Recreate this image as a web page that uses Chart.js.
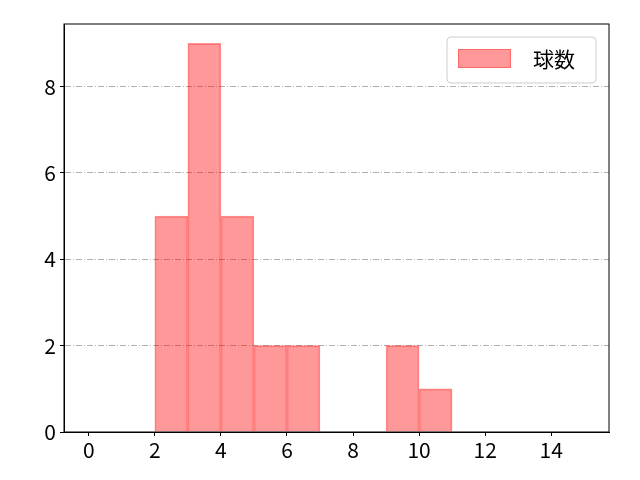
<!DOCTYPE html>
<html>
<head>
<meta charset="utf-8">
<script src="https://cdn.jsdelivr.net/npm/chart.js@4"></script>
<style>
  body { margin: 0; background: #fff; }
  #wrap { width: 640px; height: 480px; }
</style>
</head>
<body>
<div id="wrap"><canvas id="myChart" width="640" height="480"></canvas></div>
<script>
// histogram bins (left edges) and counts
const binStarts = [0, 1, 2, 3, 4, 5, 6, 7, 8, 9, 10, 11, 12, 13, 14]
const counts = [0, 0, 5, 9, 5, 2, 2, 0, 0, 2, 1, 0, 0, 0, 0]
const xTicks = [0, 2, 4, 6, 8, 10, 12, 14]
const yTicks = [0, 2, 4, 6, 8]
const seriesLabel = '球数'

const FONT = "'Noto Sans CJK JP', 'Noto Sans', sans-serif"

const points = binStarts.map((b, i) => ({ x: b + 0.5, y: counts[i] }))

// frame + legend, drawn like matplotlib
const framePlugin = {
    id: 'frame',
    afterDraw(chart) {
        const c = chart.ctx
        const a = chart.chartArea
        c.save()
        c.strokeStyle = '#000'
        c.lineWidth = 1
        c.strokeRect(a.left, a.top, a.right - a.left, a.bottom - a.top)

        // legend box
        const lx = 447, ly = 37, lw = 149, lh = 46
        c.fillStyle = 'rgba(255,255,255,0.8)'
        c.strokeStyle = '#cccccc'
        c.beginPath()
        c.roundRect(lx, ly, lw, lh, 4)
        c.fill()
        c.stroke()
        c.fillStyle = 'rgba(255,0,0,0.4)'
        c.fillRect(458, 49, 53, 19)
        c.strokeStyle = 'rgba(255,0,0,0.3)'
        c.strokeRect(458.5, 49.5, 52, 18)
        c.fillStyle = '#000'
        c.font = '21px ' + FONT
        c.textBaseline = 'middle'
        c.fillText(seriesLabel, 533, 59)
        c.restore()
    }
}

const ctx = document.getElementById('myChart').getContext('2d')
const myChart = new Chart(ctx, {
    type: 'bar',
    data: {
        datasets: [{
            label: seriesLabel,
            data: points,
            backgroundColor: 'rgba(255, 0, 0, 0.4)',
            borderColor: 'rgba(255, 0, 0, 0.4)',
            borderWidth: 1,
            barPercentage: 1,
            categoryPercentage: 1,
            grouped: false
        }]
    },
    options: {
        responsive: false,
        animation: false,
        layout: { padding: { top: 24, right: 31, left: 0, bottom: 0 } },
        plugins: { legend: { display: false }, tooltip: { enabled: false } },
        scales: {
            x: {
                type: 'linear',
                offset: false,
                min: -0.75,
                max: 15.75,
                afterBuildTicks: s => { s.ticks = xTicks.map(v => ({ value: v })) },
                afterFit: s => { s.height = 48 },
                grid: { offset: false, drawOnChartArea: false, tickLength: 4, tickColor: '#000' },
                border: { color: '#000' },
                ticks: { color: '#000', font: { family: FONT, size: 21 }, padding: 1, maxRotation: 0 }
            },
            y: {
                min: 0,
                max: 9.45,
                afterBuildTicks: s => { s.ticks = yTicks.map(v => ({ value: v })) },
                afterFit: s => { s.width = 64 },
                grid: {
                    color: ctx => ctx.tick && ctx.tick.value === 0 ? 'rgba(0,0,0,0)' : '#b0b0b0',
                    tickBorderDash: [],
                    tickColor: '#000',
                    tickLength: 4,
                    z: -1
                },
                border: { color: '#000', dash: [6, 2, 1, 2] },
                ticks: { color: '#000', font: { family: FONT, size: 21 }, padding: 4 }
            }
        }
    },
    plugins: [framePlugin]
})
</script>
</body>
</html>
